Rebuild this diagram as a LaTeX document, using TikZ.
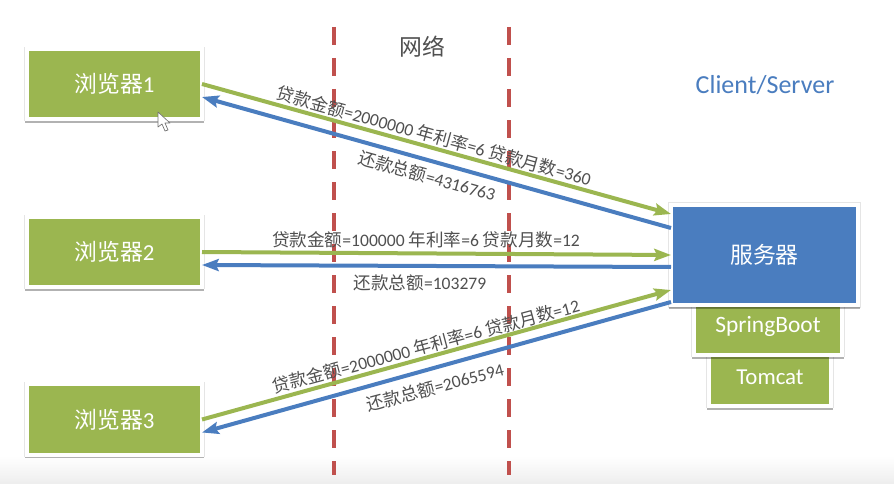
\documentclass[tikz,border=0pt]{standalone}
\usepackage{fontspec}
\setmainfont{Carlito}
\newfontfamily\cjk{Noto Sans CJK SC}
\newcommand{\cn}[1]{{\cjk #1}}
\usetikzlibrary{arrows.meta,shadows}
\definecolor{boxgreen}{HTML}{9BB650}
\definecolor{boxblue}{HTML}{4A7DBF}
\definecolor{linered}{HTML}{C0504D}
\definecolor{labelgray}{HTML}{505050}

\begin{document}
\begin{tikzpicture}[
  x={(0.03cm,0cm)},
  y={(0cm,-0.03cm)},
  box/.style={draw=white, line width=0.12cm, inner sep=0pt, outer sep=0pt, text=white, font=\fontsize{19.5}{22}\selectfont,
    general shadow={shadow xshift=0pt, shadow yshift=0pt, shadow scale=1.012, opacity=0.1, fill=black, draw=black},
    general shadow={shadow xshift=0pt, shadow yshift=-0.05cm, opacity=0.3, fill=black, draw=black}},
  browser/.style={box, fill=boxgreen, minimum width=5.25cm, minimum height=2.1cm},
  netline/.style={linered, line width=0.125cm, dash pattern=on 0.54cm off 0.39cm},
  send/.style={boxgreen, line width=0.12cm, -{Stealth[length=0.5cm,width=0.36cm,inset=0.08cm]}},
  reply/.style={boxblue, line width=0.12cm, -{Stealth[length=0.5cm,width=0.36cm,inset=0.08cm]}},
  msg/.style={text=labelgray, inner sep=0pt, font=\fontsize{15}{17}\selectfont}
]
  \useasboundingbox (0,0) rectangle (894,484);
  % background
  \fill[white] (0,0) rectangle (894,484);
  \shade[top color=white, bottom color=black!7] (0,456) rectangle (894,484);

  % network borders
  \draw[netline] (334,27) -- (334,475);
  \draw[netline] (509,27) -- (509,475);

  % boxes
  \node[browser] (browser1) at (114.5,84) {\cn{浏览器}1};
  \node[browser] (browser2) at (114.5,252) {\cn{浏览器}2};
  \node[browser] (browser3) at (114.5,419.5) {\cn{浏览器}3};
  \node[box, fill=boxgreen, minimum width=3.66cm, minimum height=1.74cm] (tomcat) at (770,377) {Tomcat};
  \node[box, fill=boxgreen, minimum width=4.44cm, minimum height=1.74cm, text depth=0.1cm] (springboot) at (768,326) {\fontsize{20}{22}\selectfont SpringBoot};
  \node[box, fill=boxblue, minimum width=5.61cm, minimum height=3cm] (server) at (764.5,255) {\cn{服务器}};

  % titles
  \node[text=labelgray, inner sep=0pt, font=\fontsize{19.5}{22}\selectfont] (network) at (422,47) {\cn{网络}};
  \node[text=boxblue, inner sep=0pt, font=\fontsize{22.2}{25}\selectfont] (clientserver) at (765,85) {Client/Server};

  % requests and replies
  \draw[send] (browser1.east) -- ([yshift=1.23cm]server.west);
  \draw[reply] ([yshift=0.81cm]server.west) -- ([yshift=-0.39cm]browser1.east);
  \draw[send] (browser2.east) -- (server.west);
  \draw[reply] ([yshift=-0.36cm]server.west) -- ([yshift=-0.39cm]browser2.east);
  \draw[send] (browser3.east) -- ([yshift=-1.05cm]server.west);
  \draw[reply] ([yshift=-1.41cm]server.west) -- ([yshift=-0.39cm]browser3.east);

  % labels
  \node[msg, rotate=-15.5] (req1) at (434,136) {\cn{贷款金额}=2000000 \cn{年利率}=6 \cn{贷款月数}=360};
  \node[msg, rotate=-15.5] (res1) at (427,176) {\cn{还款总额}=4316763};
  \node[msg] (req2) at (426,240) {\cn{贷款金额}=100000 \cn{年利率}=6 \cn{贷款月数}=12};
  \node[msg] (res2) at (420,283) {\cn{还款总额}=103279};
  \node[msg, rotate=15] (req3) at (426,346) {\cn{贷款金额}=2000000 \cn{年利率}=6 \cn{贷款月数}=12};
  \node[msg, rotate=15] (res3) at (435,387) {\cn{还款总额}=2065594};

  % mouse pointer
  \draw[fill=white, draw=black!55, line width=0.02cm, line join=round]
    (158,112) -- (158,127) -- (162,124) -- (165,131) -- (168,130) -- (165,123) -- (170,123) -- cycle;
\end{tikzpicture}
\end{document}
